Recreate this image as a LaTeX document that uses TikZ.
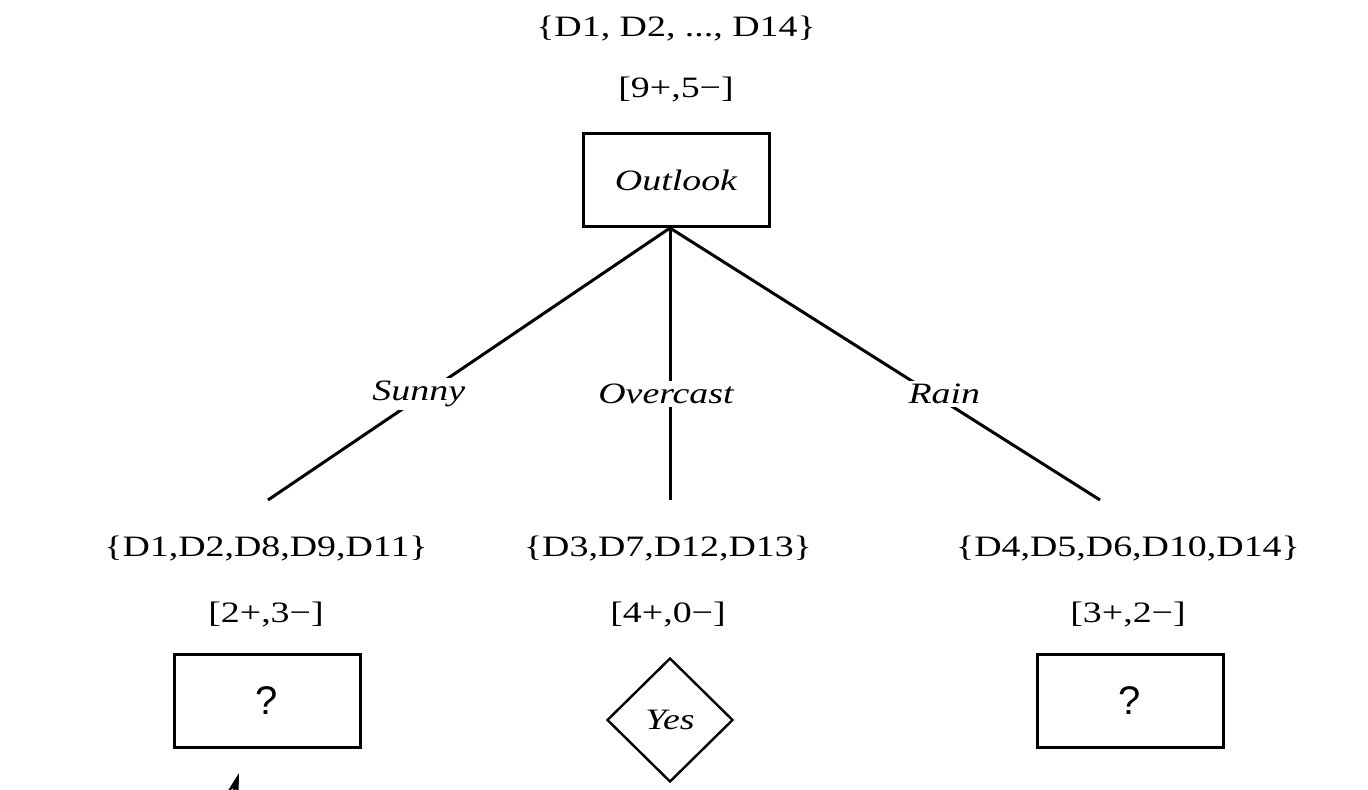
\documentclass[tikz,border=0pt]{standalone}
\usepackage{fontspec}
\setmainfont{Liberation Serif}[FakeStretch=1.28]
\newfontfamily\qmarkfont{Liberation Sans}
\usetikzlibrary{
  arrows.meta,
  shapes.geometric
}
\tikzset{
  treeText/.style={
    font=\fontsize{14.8pt}{17pt}\selectfont,
    inner sep=0pt,
    anchor=base
  },
  attrBox/.style={
    draw=black,
    line width=1.5pt,
    minimum width=93pt,
    minimum height=46.5pt,
    inner sep=0pt,
    font=\fontsize{14.8pt}{17pt}\selectfont\itshape
  },
  leafBox/.style={
    attrBox,
    font=\fontsize{20pt}{22pt}\selectfont\qmarkfont
  },
  leafDiamond/.style={
    diamond,
    draw=black,
    line width=1.2pt,
    minimum width=63pt,
    minimum height=62pt,
    inner sep=0pt,
    font=\fontsize{14.8pt}{17pt}\selectfont\itshape
  },
  branchLine/.style={line width=1.5pt, black},
  branchLabel/.style={
    font=\fontsize{14.8pt}{17pt}\selectfont\itshape,
    fill=white,
    inner sep=1.5pt
  }
}

\begin{document}
\begin{tikzpicture}[x=0.5pt,y=-0.5pt]
  \useasboundingbox (0,0) rectangle (1368,790);

  % root
  \node[treeText] (rootSet) at (676,37) {\{D1, D2, ..., D14\}};
  \node[treeText] (rootCount) at (676,98) {[9+,5−]};
  \node[attrBox] (outlook) at (676,180) {Outlook};

  % branch ends
  \coordinate (sunnyEnd) at (268,500);
  \coordinate (overcastEnd) at (670,500);
  \coordinate (rainEnd) at (1100,500);

  \draw[branchLine] ([xshift=-3pt]outlook.south) -- node[branchLabel, pos=0.61, xshift=-3pt] {Sunny} (sunnyEnd);
  \draw[branchLine] ([xshift=-3pt]outlook.south) -- node[branchLabel, pos=0.61, xshift=-2pt] {Overcast} (overcastEnd);
  \draw[branchLine] ([xshift=-3pt]outlook.south) -- node[branchLabel, pos=0.61, xshift=6pt] {Rain} (rainEnd);

  % children
  \node[treeText] (sunnySet) at (266,556) {\{D1,D2,D8,D9,D11\}};
  \node[treeText] (sunnyCount) at (266,622) {[2+,3−]};
  \node[leafBox] (sunnyLeaf) at (267,701) {?};

  \node[treeText] (overcastSet) at (668,556) {\{D3,D7,D12,D13\}};
  \node[treeText] (overcastCount) at (668,622) {[4+,0−]};
  \node[leafDiamond] (overcastLeaf) at (670,720) {Yes};

  \node[treeText] (rainSet) at (1128,556) {\{D4,D5,D6,D10,D14\}};
  \node[treeText] (rainCount) at (1128,622) {[3+,2−]};
  \node[leafBox] (rainLeaf) at (1130,701) {?};

  % arrow entering from below (cut by the page)
  \coordinate (arrowTail) at (222,830);
  \coordinate (arrowTip) at (239,773);
  \draw[line width=1pt, -{Stealth[length=11pt, width=6pt]}] (arrowTail) -- (arrowTip);
\end{tikzpicture}
\end{document}
